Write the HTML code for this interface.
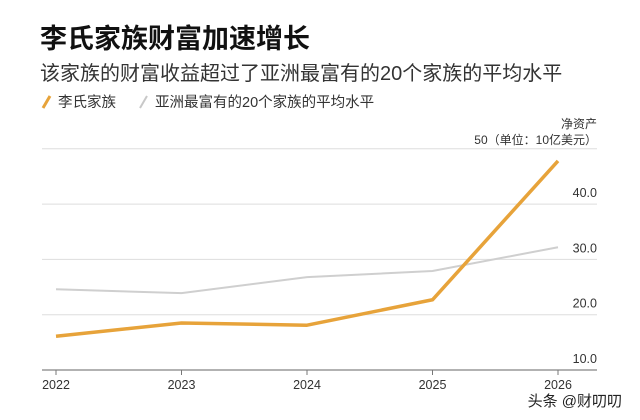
<!DOCTYPE html>
<html><head><meta charset="utf-8"><style>
body{margin:0;background:#fff;font-family:"Liberation Sans","Noto Sans CJK SC",sans-serif;}
#wrap{position:relative;width:640px;height:420px;overflow:hidden;}
</style></head><body>
<div id="wrap">
<svg width="640" height="420" id="svg" font-family="Liberation Sans, Noto Sans CJK SC, sans-serif">
<text x="40" y="48" font-size="27" font-weight="bold" fill="#111">李氏家族财富加速增长</text>
<text x="40" y="80" font-size="20" fill="#333">该家族的财富收益超过了亚洲最富有的20个家族的平均水平</text>
<g>
<line x1="43" y1="108" x2="50" y2="96" stroke="#e7a33a" stroke-width="3"/>
<text x="58" y="107" font-size="14.5" fill="#333">李氏家族</text>
<line x1="140" y1="108" x2="147" y2="96" stroke="#c8c8c8" stroke-width="2"/>
<text x="155" y="107" font-size="14.5" fill="#333">亚洲最富有的20个家族的平均水平</text>
</g>
<text x="597" y="128" font-size="12" fill="#333" text-anchor="end">净资产</text>
<text x="597" y="144" font-size="12" fill="#333" text-anchor="end">50（单位：10亿美元）</text>
<g id="grid"></g><g id="xax"></g><g id="lines"></g>
<text x="622" y="406" font-size="15" fill="#222" text-anchor="end">头条 @财叨叨</text>
</svg>
</div>
<script>
const years=["2022","2023","2024","2025","2026"];
const liFamily=[16.1,18.5,18.1,22.7,47.8];
const asiaAvg=[24.6,23.9,26.8,27.9,32.2];
const yTicks=[10,20,30,40];
const yTickLabels=["10.0","20.0","30.0","40.0"];
const NS="http://www.w3.org/2000/svg";
const x=i=>56+i*125.5;
const y=v=>370-(v-10)*5.53;
const g=document.getElementById('grid'),xa=document.getElementById('xax'),ln=document.getElementById('lines');
function mk(tag,at,parent){const e=document.createElementNS(NS,tag);for(const k in at)e.setAttribute(k,at[k]);parent.appendChild(e);return e;}
[50].concat(yTicks).forEach(v=>{
 const l=mk('line',{x1:42,x2:597,y1:y(v),y2:y(v),stroke:v===10?'#999':'#ddd','stroke-width':v===10?1.5:1},g);
 
 
});
yTicks.forEach((v,i)=>{
 const t=mk('text',{x:597,y:y(v)-7,'font-size':12.5,fill:'#333','text-anchor':'end'},g);
 t.textContent=yTickLabels[i];
 
 
});
years.forEach((yr,i)=>{
 const tk=mk('line',{x1:x(i),x2:x(i),y1:370,y2:375,stroke:'#777','stroke-width':1},xa);
 
 
 const t=mk('text',{x:x(i),y:389,'font-size':12.5,fill:'#333','text-anchor':'middle'},xa);
 t.textContent=yr;
 
 
});
const pa=mk('polyline',{points:asiaAvg.map((v,i)=>x(i)+','+y(v)).join(' '),fill:'none',stroke:'#cfcfcf','stroke-width':2},ln);


const pl=mk('polyline',{points:liFamily.map((v,i)=>x(i)+','+y(v)).join(' '),fill:'none',stroke:'#e7a33a','stroke-width':3.5,'stroke-linejoin':'round'},ln);


</script>
</body></html>
